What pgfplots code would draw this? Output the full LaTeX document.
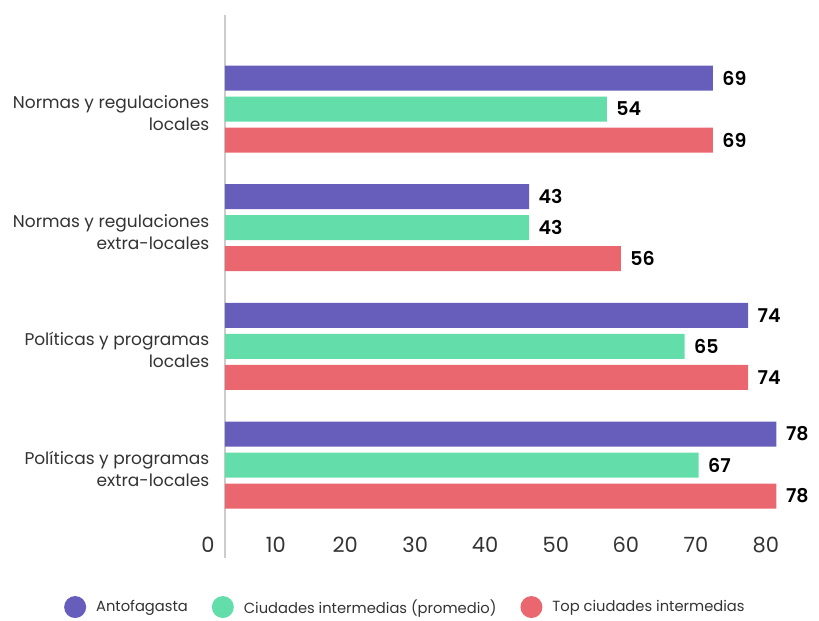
\documentclass[border=0pt]{standalone}
\usepackage{fontspec}
\setmainfont{Poppins}[BoldFont={Poppins SemiBold}]
\usepackage{pgfplots}
\pgfplotsset{compat=1.18}
\definecolor{cPurple}{HTML}{675DBB}
\definecolor{cGreen}{HTML}{63DEAB}
\definecolor{cRed}{HTML}{EB6770}
\definecolor{cText}{HTML}{333333}
\definecolor{cLine}{HTML}{CCCCCC}
\pgfplotsset{circleleg/.style={legend image code/.code={\fill[#1] (0pt,0pt) circle (11pt); \path (19pt,0pt);}}}

\begin{document}
\begin{tikzpicture}
\begin{axis}[
  x=7.07pt, y=118.67pt,
  xmin=-3, xmax=84, ymin=-0.5, ymax=3.5,
  xbar, bar width=25pt,
  axis line style={draw=none},
  major tick length=0pt,
  xtick={-2.4,7.2,17.0,26.9,36.8,46.8,56.7,66.6,76.5},
  xticklabels={0,10,20,30,40,50,60,70,80},
  ytick={0,1,2,3},
  yticklabels={{Políticas y programas\\extra-locales},{Políticas y programas\\locales},{Normas y regulaciones\\extra-locales},{Normas y regulaciones\\locales}},
  yticklabel style={align=right, font=\fontsize{17}{22}\selectfont, text=cText, xshift=9pt, yshift=-4pt},
  xticklabel style={font=\fontsize{21}{24}\selectfont, text=cText, yshift=-9pt},
  /pgf/number format/assume math mode=true,
  clip=false,
  nodes near coords,
  nodes near coords style={font=\bfseries\fontsize{19}{22}\selectfont, text=black, anchor=west, xshift=6pt},
  legend style={at={(axis cs:-23.2,-1.1966)}, anchor=west, draw=none, fill=none,
    legend columns=-1, font=\fontsize{14.7}{18}\selectfont, text=cText,
    /tikz/every even column/.append style={column sep=22pt}},
]
\draw[cLine, line width=1.5pt] (axis cs:0,3.792) -- (axis cs:0,-0.784);

% Antofagasta
\addplot[fill=cPurple, draw=none, bar shift=31pt, circleleg=cPurple] coordinates {
  (69,3) (43,2) (74,1) (78,0)
};
% Ciudades intermedias (promedio)
\addplot[fill=cGreen, draw=none, bar shift=0pt, circleleg=cGreen] coordinates {
  (54,3) (43,2) (65,1) (67,0)
};
% Top ciudades intermedias
\addplot[fill=cRed, draw=none, bar shift=-31pt, circleleg=cRed] coordinates {
  (69,3) (56,2) (74,1) (78,0)
};
\legend{Antofagasta, Ciudades intermedias (promedio), Top ciudades intermedias}

\path (axis cs:-31.82,3.9185) rectangle (axis cs:84.0,-1.2977);
\end{axis}
\end{tikzpicture}
\end{document}
